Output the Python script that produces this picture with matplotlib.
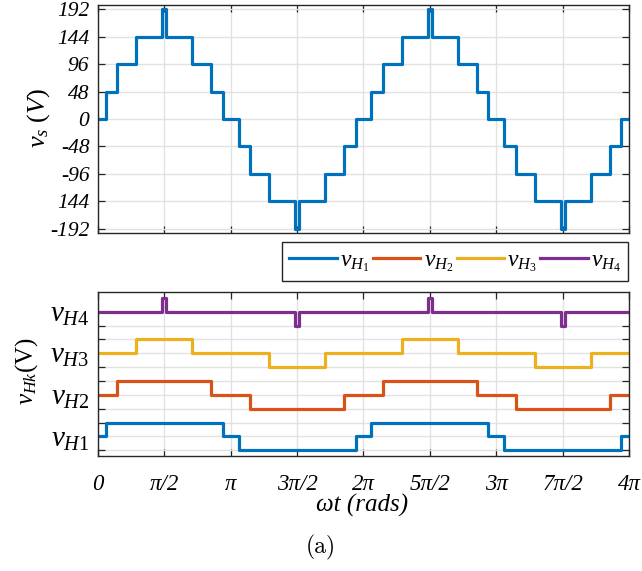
import numpy as np
import matplotlib
matplotlib.use("Agg")
import matplotlib.pyplot as plt

# switching angles of each H-bridge cell, in units of pi
h1_edges = [0.06, 0.94, 1.06, 1.94, 2.06, 2.94, 3.06, 3.94]
h2_edges = [0.147, 0.853, 1.147, 1.853, 2.147, 2.853, 3.147, 3.853]
h3_edges = [0.29, 0.71, 1.29, 1.71, 2.29, 2.71, 3.29, 3.71]
h4_edges = [0.487, 0.513, 1.487, 1.513, 2.487, 2.513, 3.487, 3.513]
cell_levels = [0, 1, 0, -1, 0, 1, 0, -1, 0]   # level after each edge
cell_names = ["H1", "H2", "H3", "H4"]
cell_offsets = [0, 3, 6, 9]
cell_colors = ["#0072BD", "#D95319", "#EDB120", "#7E2F8E"]
step_volts = 48

vs_ticks = [-192, -144, -96, -48, 0, 48, 96, 144, 192]
vs_ticklabels = ["-192", "144", "-96", "-48", "0", "48", "96", "144", "192"]
x_ticks = [0, 0.5, 1, 1.5, 2, 2.5, 3, 3.5, 4]
x_ticklabels = ["0", "π/2", "π", "3π/2", "2π", "5π/2", "3π", "7π/2", "4π"]

plt.rcParams["font.family"] = "Liberation Serif"
plt.rcParams["mathtext.fontset"] = "custom"
plt.rcParams["mathtext.rm"] = "Liberation Serif"
plt.rcParams["mathtext.it"] = "Liberation Serif:italic"
plt.rcParams["axes.unicode_minus"] = False

all_edges = [h1_edges, h2_edges, h3_edges, h4_edges]


def step_signal(edges, levels):
    t = np.r_[0, edges, 4] * np.pi
    y = np.r_[levels, levels[-1]]
    return t, y


# output voltage = sum of the cells
t_all = np.unique(np.concatenate(all_edges))
seg_start = np.r_[0, t_all]
vs = np.zeros(len(seg_start))
for e in all_edges:
    idx = np.searchsorted(e, seg_start, side="right")
    vs += np.array(cell_levels)[idx]
vs *= step_volts
t_vs = np.r_[seg_start, 4] * np.pi
vs = np.r_[vs, vs[-1]]

W, H = 642, 571
fig = plt.figure(figsize=(W / 100, H / 100), dpi=100)
x0, x1 = 97.7, 629.3
ax1 = fig.add_axes([x0 / W, 1 - 233 / H, (x1 - x0) / W, (233 - 5) / H])
ax2 = fig.add_axes([x0 / W, 1 - 456 / H, (x1 - x0) / W, (456 - 292.3) / H])


def style(ax):
    ax.set_axisbelow(True)
    ax.grid(True, color="#e2e2e2", lw=1.0)
    for s in ax.spines.values():
        s.set_color("#262626")
        s.set_linewidth(1.0)
    ax.tick_params(direction="in", top=True, right=True, length=5,
                   color="#262626", width=0.9, pad=6)
    ax.set_xlim(0, 4 * np.pi)
    ax.set_xticks(np.array(x_ticks) * np.pi)


# top: staircase output
style(ax1)
ax1.plot(t_vs, vs, drawstyle="steps-post", color=cell_colors[0], lw=2.3)
ax1.set_ylim(-199, 199)
ax1.set_yticks(vs_ticks)
ax1.set_yticklabels(vs_ticklabels, fontsize=15.5, style="italic")
ax1.set_xticklabels([])

# bottom: cell voltages
style(ax2)
handles = []
for k in range(4):
    t, y = step_signal(all_edges[k], cell_levels)
    h, = ax2.plot(t, y + cell_offsets[k], drawstyle="steps-post",
                  color=cell_colors[k], lw=2.3)
    handles.append(h)
ax2.set_ylim(-1.41, 10.4)
ax2.set_yticks(range(-1, 10))
ylabels = [""] * 11
for k in range(4):
    ylabels[cell_offsets[k] + 1] = r"$v_{\mathit{%s}}$" % cell_names[k]
ax2.set_yticklabels(ylabels, fontsize=21)
ax2.set_xticklabels(x_ticklabels, fontsize=16.5, style="italic")
ax2.tick_params(axis="x", pad=13)

fig.text(39 / W, 1 - 118 / H, r"$v_s\ (V)$", fontsize=19, rotation=90,
         ha="center", va="center")
fig.text(27 / W, 1 - 371 / H, r"$v_{\mathit{Hk}}\mathrm{(V)}$", fontsize=18,
         rotation=90, ha="center", va="center")
fig.text(362 / W, 1 - 505 / H, "ωt (rads)", fontsize=18, style="italic",
         ha="center", va="center")
fig.text(321 / W, 1 - 547.5 / H, "(a)", fontsize=17, fontfamily="cmr10",
         ha="center", va="center")

leg = fig.legend(handles, [r"$v_{H_%d}$" % (k + 1) for k in range(4)],
                 loc="center", mode="expand",
                 bbox_to_anchor=(282.3 / W, 1 - 288.3 / H, 346 / W, 53.3 / H),
                 ncol=4, fontsize=17, handlelength=2.0, handletextpad=0.15,
                 columnspacing=0.3, fancybox=False, framealpha=1,
                 edgecolor="#262626", borderpad=0.3, borderaxespad=0)
leg.get_frame().set_linewidth(1.0)

fig.savefig("out.png", dpi=100)
